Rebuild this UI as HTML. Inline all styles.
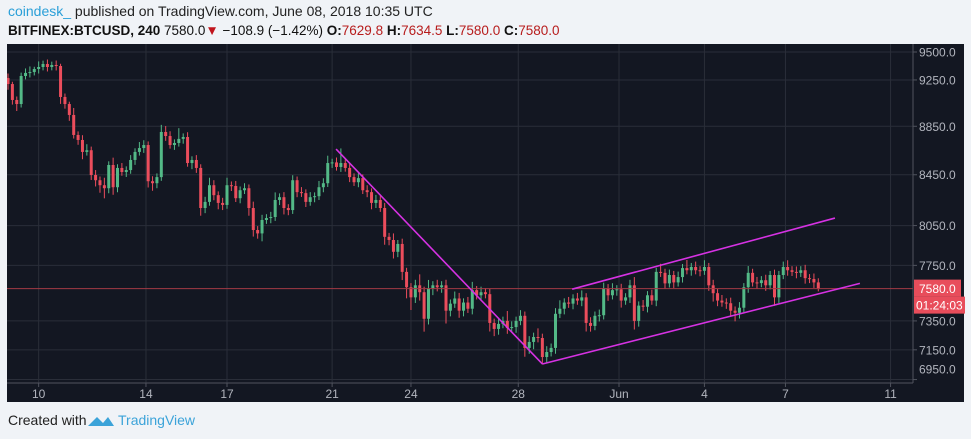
<!DOCTYPE html>
<html><head><meta charset="utf-8">
<style>
body{margin:0;background:#f0f3f7;width:971px;height:439px;overflow:hidden;font-family:"Liberation Sans",sans-serif;}
#hdr1{position:absolute;left:8px;top:3px;font-size:14px;color:#222;}
#hdr2{position:absolute;left:8px;top:23px;font-size:13.5px;color:#111;}
.r{color:#b71c1c}
#foot{position:absolute;left:8px;top:412px;font-size:14px;color:#222;}
#tv{position:absolute;left:118px;top:412px;font-size:14px;color:#3ba3d9;}
svg{position:absolute;left:0;top:0}
</style></head><body>
<div id="hdr1"><span style="color:#2a9fd8">coindesk_</span> published on TradingView.com, June 08, 2018 10:35 UTC</div>
<div id="hdr2"><b>BITFINEX:BTCUSD, 240</b> 7580.0<span style="color:#c0141c">▼</span> −108.9 (−1.42%) <b>O:</b><span class="r">7629.8</span> <b>H:</b><span class="r">7634.5</span> <b>L:</b><span class="r">7580.0</span> <b>C:</b><span class="r">7580.0</span></div>
<svg id="chart" width="971" height="439"></svg>
<div id="foot">Created with</div>
<svg width="971" height="439" style="pointer-events:none"><path d="M88 426 l9 -9 l6 6 l5 -6 l6 9 z" fill="#3ba3d9"/></svg>
<div id="tv">TradingView</div>
<script>
const firstOpen = 9267;
const closes = [9214,9075,9040,9285,9312,9320,9347,9365,9392,9365,9383,9374,9101,9040,8946,8777,8735,8636,8650,8448,8406,8366,8342,8529,8350,8505,8472,8488,8570,8636,8668,8693,8398,8382,8431,8802,8768,8693,8710,8744,8760,8545,8570,8505,8186,8234,8366,8287,8226,8210,8366,8360,8263,8326,8342,8186,8016,7990,8093,8108,8116,8249,8271,8186,8170,8406,8311,8303,8234,8271,8279,8350,8382,8545,8550,8513,8545,8505,8431,8390,8423,8326,8311,8226,8249,8186,7964,7940,7851,7910,7702,7590,7517,7604,7554,7365,7583,7604,7590,7604,7422,7472,7509,7422,7480,7436,7569,7532,7554,7540,7336,7294,7329,7350,7300,7307,7350,7386,7163,7204,7238,7231,7101,7135,7163,7400,7436,7480,7472,7509,7494,7517,7336,7315,7386,7390,7583,7532,7569,7575,7494,7517,7604,7350,7458,7450,7532,7494,7702,7695,7618,7679,7625,7664,7730,7714,7738,7714,7710,7738,7604,7547,7494,7480,7475,7422,7407,7443,7590,7695,7625,7620,7641,7604,7679,7517,7679,7738,7714,7702,7695,7714,7656,7650,7625,7580];
const wickHi = [40,20,30,30,40,50,20,50,30,40,30,40,20,30,20,60,30,40,50,30,40,30,60,30,60,30,40,30,40,30,50,40,30,40,30,60,50,40,30,90,30,40,30,40,30,40,60,40,30,40,60,30,40,30,40,30,50,30,40,30,40,60,30,40,30,40,30,40,30,40,30,50,40,60,30,40,120,30,40,30,40,30,40,30,40,30,40,30,50,30,40,30,30,40,80,40,60,30,40,30,40,30,50,40,30,40,60,30,40,30,40,30,40,30,70,40,30,40,30,40,30,60,30,40,30,40,60,30,40,30,40,50,30,40,30,40,40,30,50,30,40,30,40,60,30,40,30,40,30,60,30,40,30,40,30,60,30,40,30,50,30,40,30,40,30,40,30,40,30,50,30,40,30,40,30,40,30,40,50,30,40,30,40,30,40,30];
const wickLo = [50,40,60,30,30,40,30,40,30,40,30,40,60,40,50,30,40,60,30,40,50,60,80,40,60,40,30,40,30,40,30,40,50,60,40,30,40,30,40,30,40,30,50,40,60,40,30,40,50,40,30,40,30,40,30,60,50,40,60,30,40,30,40,50,40,30,40,30,40,30,40,30,40,30,40,30,40,30,40,30,40,30,40,50,40,30,60,40,50,40,60,80,90,40,60,90,40,50,30,40,90,40,30,50,40,30,40,30,40,30,60,50,40,30,40,30,40,30,60,40,50,30,50,40,30,40,30,40,30,40,30,40,60,40,30,40,30,40,30,40,50,30,40,60,40,30,40,30,40,30,40,30,40,30,40,30,40,30,40,30,40,60,40,30,40,40,60,40,30,40,30,40,30,40,30,60,40,30,40,30,40,30,40,30,40,20];
const priceTicks = [9500,9250,8850,8450,8050,7750,7350,7150,6950];
const dateTickIdx = [7,31.5,50,74,92,116.5,139.5,159,177.5,201.5];
const dateTickLabels = ["10","14","17","21","24","28","Jun","4","7","11"];
const lineStartIdx = [74.9,122,128.8];
const lineStartPrice = [8660,7054,7576];
const lineEndIdx = [122,194.5,188.8];
const lineEndPrice = [7054,7618,8108];
const lastPrice = 7580;

const NS="http://www.w3.org/2000/svg";
const svg=document.getElementById('chart');
const L=7,R=964,T=44,B=402,PR=913,PB=383;
function y(p){return 52+1048*Math.log(9500/p);}
function x(i){return 8+4.38*i;}
function mk(tag,attrs,parent){const e=document.createElementNS(NS,tag);for(const k in attrs)e.setAttribute(k,attrs[k]);(parent||svg).appendChild(e);return e;}
const bg=mk('rect',{x:L,y:T,width:R-L,height:B-T,fill:'#131722'});


const clip=mk('clipPath',{id:'pc'});mk('rect',{x:L,y:T,width:PR-L,height:PB-T},clip);
const grid=mk('g',{'clip-path':'url(#pc)'});


priceTicks.forEach(p=>{mk('line',{x1:L,x2:PR,y1:y(p),y2:y(p),stroke:'#2a2e39','stroke-width':1},grid);});
dateTickIdx.forEach(i=>{mk('line',{x1:x(i),x2:x(i),y1:T,y2:PB,stroke:'#2a2e39','stroke-width':1},grid);});
const cg=mk('g',{'clip-path':'url(#pc)'});


let prev=firstOpen;
closes.forEach((c,i)=>{
  const o=prev;prev=c;
  const up=c>=o;const col=up?'#53b987':'#eb4d5c';
  const hi=Math.max(o,c)+wickHi[i],lo=Math.min(o,c)-wickLo[i];
  const g=mk('g',{},cg);
  
  
  mk('line',{x1:x(i),x2:x(i),y1:y(hi),y2:y(lo),stroke:col,'stroke-width':1},g);
  const yt=y(Math.max(o,c)),yb=y(Math.min(o,c));
  mk('rect',{x:x(i)-1.5,y:yt,width:3,height:Math.max(1,yb-yt),fill:col},g);
});
const pl=mk('line',{x1:L,x2:PR,y1:y(lastPrice),y2:y(lastPrice),stroke:'#a33a45','stroke-width':1});


lineStartIdx.forEach((s,k)=>{
  const ln=mk('line',{x1:x(s),y1:y(lineStartPrice[k]),x2:x(lineEndIdx[k]),y2:y(lineEndPrice[k]),stroke:'#d632e3','stroke-width':1.6});
  
  
});
mk('line',{x1:PR,x2:PR,y1:T,y2:PB,stroke:'#50535e'});
mk('line',{x1:L,x2:PR,y1:PB,y2:PB,stroke:'#50535e'});
const yax=mk('g',{});


priceTicks.forEach(p=>{
  const yy=y(p);
  mk('line',{x1:PR,x2:PR+4,y1:yy,y2:yy,stroke:'#50535e'},yax);
  const t=mk('text',{x:PR+6,y:Math.min(yy,369)+4.5,fill:'#b2b5be','font-size':12,'font-family':'Liberation Sans, sans-serif'},yax);
  t.textContent=p.toFixed(1);
  
  
});
const ly=y(lastPrice);
const lb=mk('rect',{x:PR+1,y:ly-9,width:47,height:17,fill:'#e84d5b'});


const lt=mk('text',{x:PR+6,y:ly+4.5,fill:'#fff','font-size':12,'font-family':'Liberation Sans, sans-serif'});lt.textContent=lastPrice.toFixed(1);
const tb=mk('rect',{x:PR+1,y:ly+8,width:51,height:17,fill:'#e84d5b'});


const tt=mk('text',{x:PR+3,y:ly+21,fill:'#fff','font-size':12,'font-family':'Liberation Sans, sans-serif'});tt.textContent='01:24:03';
const xax=mk('g',{});


dateTickIdx.forEach((i,k)=>{
  mk('line',{x1:x(i),x2:x(i),y1:PB,y2:PB+4,stroke:'#50535e'},xax);
  const t=mk('text',{x:x(i),y:398,fill:'#b2b5be','font-size':12,'text-anchor':'middle','font-family':'Liberation Sans, sans-serif'},xax);
  t.textContent=dateTickLabels[k];
  
  
});
</script>
</body></html>
